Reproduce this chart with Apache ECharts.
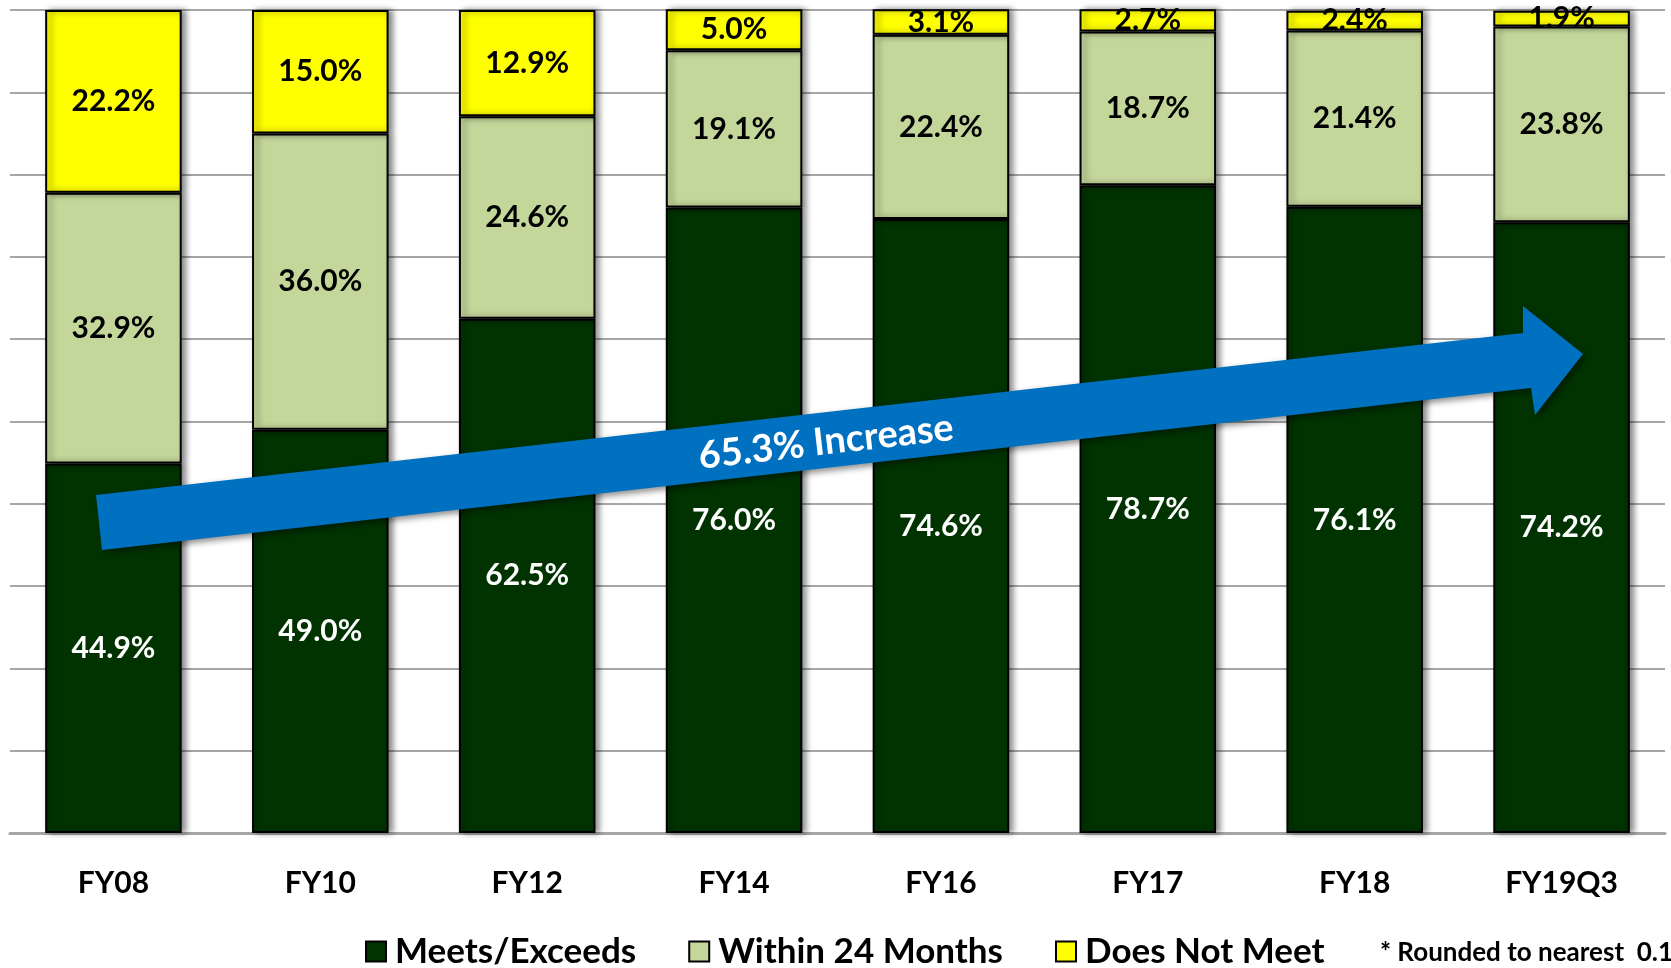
<html lang="en">
<head>
    <meta charset="UTF-8">
    <title>Meets/Exceeds</title>
    <script src="https://cdn.jsdelivr.net/npm/echarts@6/dist/echarts.min.js"></script>
    <style>
        html, body { margin: 0; padding: 0; background: #fff; }
        #main { width: 1671px; height: 968px; }
    </style>
</head>
<body>
    <div id="main"></div>
    <script type="text/javascript">
        var categories = ['FY08', 'FY10', 'FY12', 'FY14', 'FY16', 'FY17', 'FY18', 'FY19Q3'];
        var meets = [44.9, 49.0, 62.5, 76.0, 74.6, 78.7, 76.1, 74.2];
        var within24 = [32.9, 36.0, 24.6, 19.1, 22.4, 18.7, 21.4, 23.8];
        var doesNotMeet = [22.2, 15.0, 12.9, 5.0, 3.1, 2.7, 2.4, 1.9];
        var yTicks = [0, 10, 20, 30, 40, 50, 60, 70, 80, 90, 100];
        var arrowText = '65.3% Increase';
        var footnote = '* Rounded to nearest  0.1';

        var FONT = 'Lato';

        function pct(p) {
            return p.value.toFixed(1) + '%';
        }

        function barSeries(name, data, color, labelColor) {
            return {
                name: name,
                type: 'bar',
                stack: 'total',
                barWidth: '66%',
                data: data,
                itemStyle: {
                    color: color,
                    borderColor: '#000',
                    borderWidth: 2,
                    shadowColor: 'rgba(0,0,0,0.45)',
                    shadowBlur: 6,
                    shadowOffsetX: 4
                },
                label: {
                    show: true,
                    position: 'inside',
                    formatter: pct,
                    color: labelColor,
                    fontFamily: FONT,
                    fontWeight: 'bold',
                    fontSize: 30
                }
            };
        }

        var chart = echarts.init(document.getElementById('main'));
        var option = {
            animation: false,
            grid: { left: 10, right: 6, top: 10, bottom: 135 },
            legend: {
                left: 360,
                top: 929,
                itemWidth: 20,
                itemHeight: 20,
                itemGap: 52,
                icon: 'rect',
                itemStyle: { borderColor: '#000', borderWidth: 2, shadowBlur: 0, shadowOffsetX: 0 },
                textStyle: { fontFamily: FONT, fontWeight: 'bold', fontSize: 35, color: '#000', padding: [0, 0, 0, 4] },
                data: ['Meets/Exceeds', 'Within 24 Months', 'Does Not Meet']
            },
            xAxis: {
                type: 'category',
                data: categories,
                axisLine: { lineStyle: { color: '#a6a6a6', width: 3 } },
                axisTick: { show: false },
                axisLabel: { margin: 35, color: '#000', fontFamily: FONT, fontWeight: 'bold', fontSize: 30 }
            },
            yAxis: {
                type: 'value',
                min: yTicks[0],
                max: yTicks[yTicks.length - 1],
                interval: yTicks[1] - yTicks[0],
                axisLabel: { show: false },
                axisLine: { show: false },
                axisTick: { show: false },
                splitLine: { lineStyle: { color: '#a6a6a6', width: 2 } }
            },
            series: [
                barSeries('Meets/Exceeds', meets, '#003300', '#fff'),
                barSeries('Within 24 Months', within24, '#c4d79b', '#000'),
                barSeries('Does Not Meet', doesNotMeet, '#ffff00', '#000')
            ],
            graphic: [
                {
                    type: 'polygon',
                    z: 100,
                    shape: {
                        points: [[96, 495], [1523, 333], [1523, 306], [1583, 354], [1535, 415], [1531, 388], [102, 550]]
                    },
                    style: {
                        fill: '#0070c0',
                        shadowColor: 'rgba(0,0,0,0.45)',
                        shadowBlur: 6,
                        shadowOffsetX: 3,
                        shadowOffsetY: 3
                    }
                },
                {
                    type: 'text',
                    z: 101,
                    x: 826,
                    y: 442,
                    rotation: 0.113,
                    style: {
                        text: arrowText,
                        fill: '#fff',
                        font: 'bold 38px ' + FONT,
                        textAlign: 'center',
                        textVerticalAlign: 'middle'
                    }
                },
                {
                    type: 'text',
                    z: 100,
                    x: 1380,
                    y: 953,
                    style: {
                        text: footnote,
                        fill: '#000',
                        font: 'bold 26px ' + FONT,
                        textAlign: 'left',
                        textVerticalAlign: 'middle'
                    }
                }
            ]
        };
        chart.setOption(option);
    </script>
</body>
</html>
